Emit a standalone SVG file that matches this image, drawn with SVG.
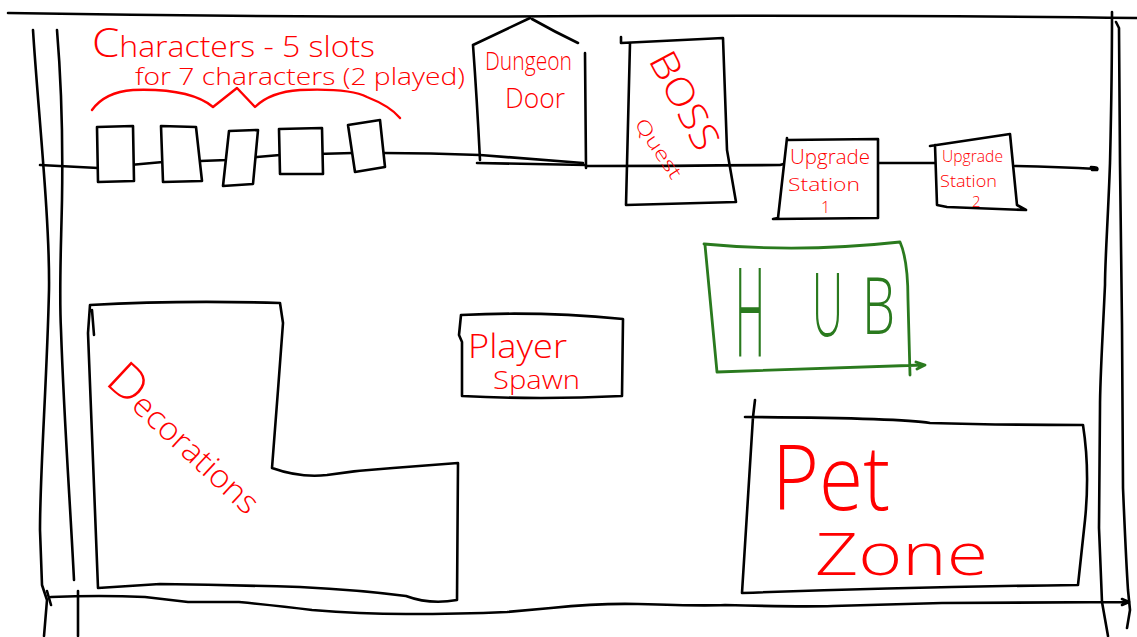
<svg xmlns="http://www.w3.org/2000/svg" width="1137" height="637" viewBox="0 0 1137 637">
<style>
.k{fill:none;stroke:#000;stroke-width:2.6;stroke-linecap:round;stroke-linejoin:round}
.w{fill:#fff;stroke:#000;stroke-width:2.6;stroke-linecap:round;stroke-linejoin:round}
.g{fill:none;stroke:#2a7a1e;stroke-width:2.8;stroke-linecap:round;stroke-linejoin:round}
.r{fill:none;stroke:#f00;stroke-width:2.4;stroke-linecap:round;stroke-linejoin:round}
.t{font-family:"Open Sans","Liberation Sans",sans-serif;font-weight:300;fill:#f00}
.tg{font-family:"Open Sans","Liberation Sans",sans-serif;font-weight:300;fill:#2a7a1e}
</style>
<rect width="1137" height="637" fill="#fff"/>
<g id="connectors">
<path class="k" d="M8,13 Q300,18 600,16 Q900,15 1137,18"/>
<path class="k" d="M33,30 C38,110 50,220 49,290 C47,380 40,470 40,530 L42,585 L47,600 L44,636"/>
<path class="k" d="M57,30 C62,90 63,140 62,200 C61,250 59,290 61,330 C64,420 70,500 74,580"/>
<path class="k" d="M78,591 L78,636"/>
<path class="k" d="M47,591 L51,605 M51,597 Q100,595 145,597 Q170,600 188,602 L239,602 Q280,606 312,610 Q360,614 406,614 Q460,614 507,612 Q530,610 551,608 Q600,603 638,604 Q700,606 725,605 Q800,607 833,606 Q900,604 942,603 L1127,602 M1122,599 L1129,602 L1122,605"/>
<path class="k" d="M1112,12 C1112,80 1111,120 1110,163 C1108,220 1105,260 1105,285 C1102,350 1100,380 1100,407 L1099,528 L1102,602 L1108,636"/>
<path class="k" d="M1116,22 L1119,28 L1120,163 L1122,325 L1123,488 Q1126,560 1128,590 L1130,610 L1127,628"/>
<path class="k" d="M40,165 L98,168 Q115,166 130,165 L163,162 L200,161 L227,160 L257,157 L280,155 L353,153 L383,153 Q430,153 480,155 L583,163"/>
<path class="k" d="M586,166 Q680,166 780,165 L787,163"/>
<path class="k" d="M878,163 L937,163"/>
<path class="k" d="M1015,166 Q1060,167 1097,169 M1091,167 Q1099,167 1097,170 L1092,170"/>
</g>
<g id="characters">
<text class="t" x="92" y="57" font-size="29" textLength="283" lengthAdjust="spacingAndGlyphs"><tspan font-size="40">C</tspan>haracters - 5 slots</text>
<text class="t" x="135" y="85" font-size="24" textLength="330" lengthAdjust="spacingAndGlyphs">for  7 characters (2 played)</text>
<path class="r" d="M92,110 Q105,92 133,90 Q190,88 213,107 L237,88 L255,107 Q270,92 300,90 Q350,88 367,97 Q390,106 400,118"/>
</g>
<g id="slot1"><path class="w" d="M97,127 L133,126 L134,181 L98,182 Z"/></g>
<g id="slot2"><path class="w" d="M161,126 L196,127 L202,181 L163,182 Z"/></g>
<g id="slot3"><path class="w" d="M229,131 L258,130 L253,184 L223,186 Z"/></g>
<g id="slot4"><path class="w" d="M279,129 L322,128 L323,174 L280,174 Z"/></g>
<g id="slot5"><path class="w" d="M348,125 L380,120 L385,167 L355,172 Z"/></g>
<g id="dungeon-door">
<path class="k" d="M473,45 L530,18 M532,19 Q555,32 578,43 M473,45 Q477,100 480,160 M585,53 L586,168 M477,163 L586,165"/>
<text class="t" x="485" y="70" font-size="26" textLength="87" lengthAdjust="spacingAndGlyphs">Dungeon</text>
<text class="t" x="505" y="108" font-size="28" textLength="60" lengthAdjust="spacingAndGlyphs">Door</text>
</g>
<g id="boss-quest">
<path class="k" d="M621,37 L621,43 L723,38 L727,150 L736,202 L626,205 L630,43"/>
<text class="t" transform="translate(648,60) rotate(62)" font-size="38" textLength="106" lengthAdjust="spacingAndGlyphs">BOSS</text>
<text class="t" transform="translate(634,124) rotate(56)" font-size="19" textLength="68" lengthAdjust="spacingAndGlyphs">Quest</text>
</g>
<g id="upgrade-station-1">
<path class="w" d="M787,140 L878,139 L878,218 L773,219 L778,218 L787,138"/>
<text class="t" x="790" y="164" font-size="20" textLength="80" lengthAdjust="spacingAndGlyphs">Upgrade</text>
<text class="t" x="788" y="191" font-size="19" textLength="72" lengthAdjust="spacingAndGlyphs">Station</text>
<text class="t" x="821" y="213" font-size="16">1</text>
</g>
<g id="upgrade-station-2">
<path class="w" d="M930,146 L1010,134 L1017,205 L1026,210 L947,207 L937,205 L935,145"/>
<text class="t" x="942" y="162" font-size="17" textLength="61" lengthAdjust="spacingAndGlyphs">Upgrade</text>
<text class="t" x="940" y="187" font-size="16" textLength="57" lengthAdjust="spacingAndGlyphs">Station</text>
<text class="t" x="972" y="207" font-size="15">2</text>
</g>
<g id="hub">
<path class="g" d="M704,244 Q800,253 900,242 Q908,260 908,300 L910,375 M705,245 L717,372 L923,365 M916,362 L925,365 L917,369"/>
<text class="tg" x="735" y="357" font-size="123" textLength="30" lengthAdjust="spacingAndGlyphs">H</text>
<text class="tg" x="812" y="336" font-size="88" textLength="31" lengthAdjust="spacingAndGlyphs">U</text>
<text class="tg" x="862" y="334" font-size="80" textLength="33" lengthAdjust="spacingAndGlyphs">B</text>
</g>
<g id="player-spawn">
<path class="k" d="M461,315 Q540,311 623,319 L622,396 Q540,400 462,396 L462,342 L459,335 L461,315"/>
<text class="t" x="468" y="358" font-size="33" textLength="99" lengthAdjust="spacingAndGlyphs">Player</text>
<text class="t" x="493" y="389" font-size="26" textLength="87" lengthAdjust="spacingAndGlyphs">Spawn</text>
</g>
<g id="decorations">
<path class="k" d="M90,305 Q180,300 280,303 L283,323 L278,390 L272,468 Q300,478 327,475 Q360,470 393,468 L458,463 L457,600 Q430,605 406,596 Q360,590 300,587 Q230,585 160,584 L98,588 L88,333 Z M92,310 L94,335"/>
<text class="t" transform="translate(104,383) rotate(43)" font-size="32" textLength="195" lengthAdjust="spacingAndGlyphs"><tspan font-size="48">D</tspan>ecorations</text>
</g>
<g id="pet-zone">
<path class="k" d="M755,400 L753,417 M745,417 Q900,418 930,423 Q1000,425 1083,425 Q1090,470 1085,520 L1078,585 Q900,587 742,593 L753,417"/>
<text class="t" x="772" y="510" font-size="90" textLength="118" lengthAdjust="spacingAndGlyphs">Pet</text>
<text class="t" x="815" y="575" font-size="58" textLength="173" lengthAdjust="spacingAndGlyphs">Zone</text>
</g>
</svg>
